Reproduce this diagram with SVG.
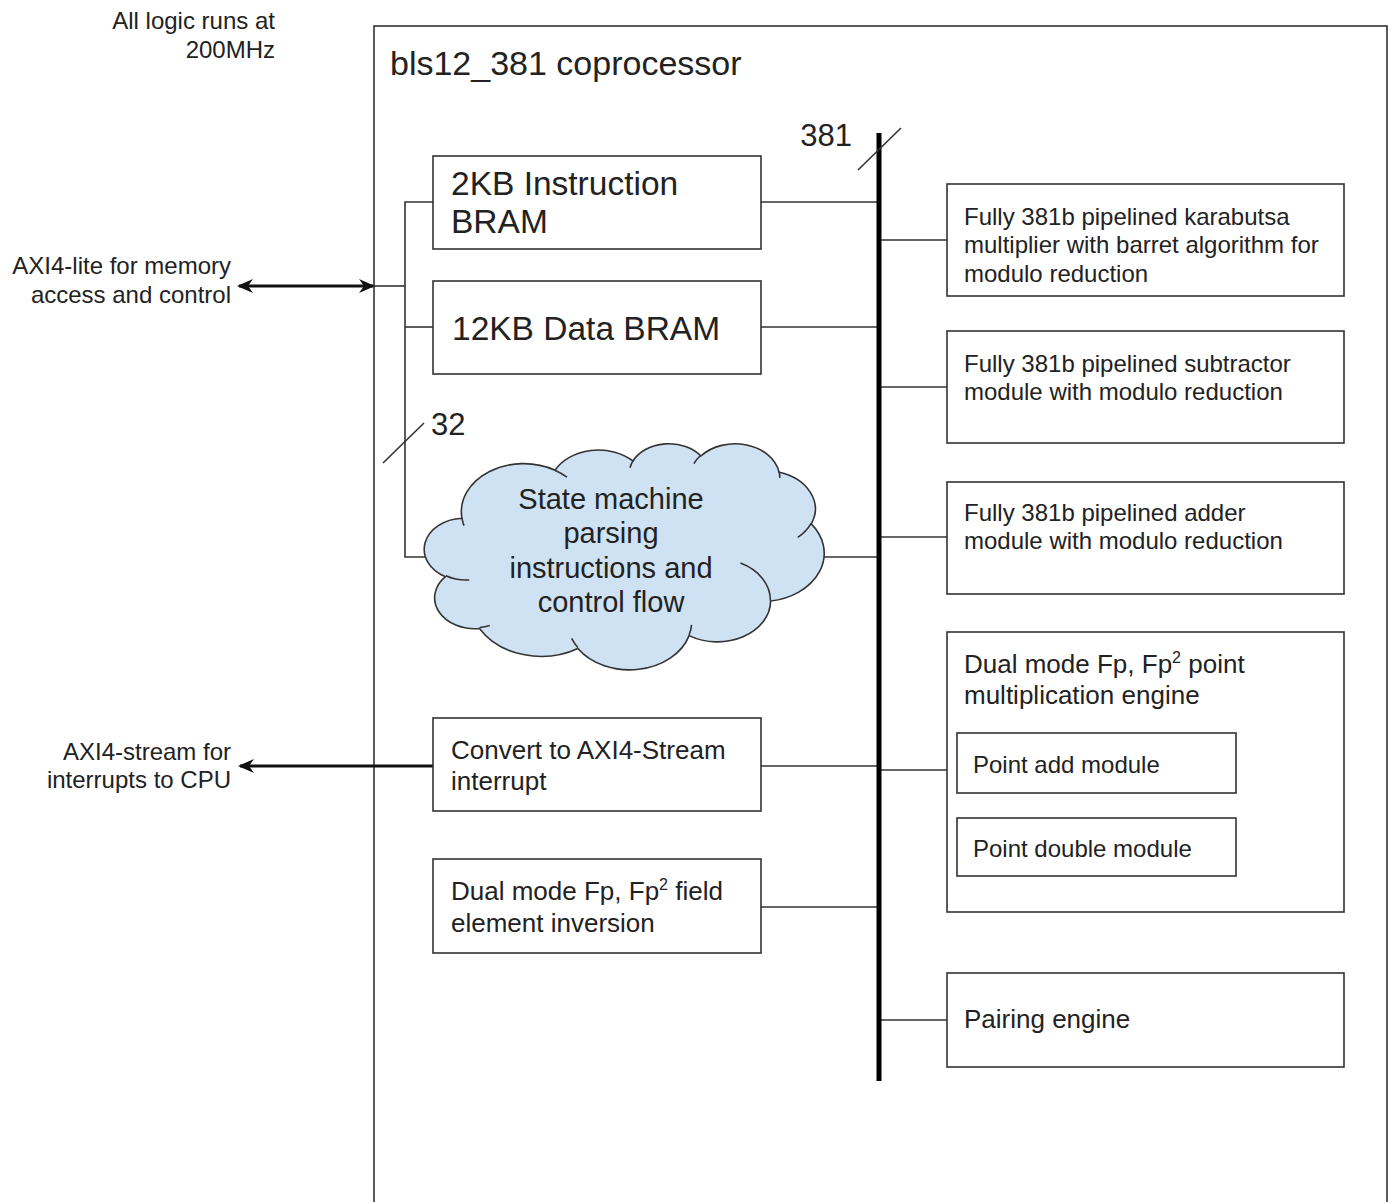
<svg xmlns="http://www.w3.org/2000/svg" width="1392" height="1202" viewBox="0 0 1392 1202">
<defs>
<style>
text{font-family:"Liberation Sans",Arial,sans-serif;fill:#222}
.box{fill:#fff;stroke:#333;stroke-width:1.6}
.ln{stroke:#333;stroke-width:1.6;fill:none}
.io{stroke:#111;stroke-width:2.8;fill:none}
.bus{stroke:#000;stroke-width:5;fill:none}
.big{font-size:33.5px}
.mid{font-size:26px}
.sm{font-size:24px}
.cl{font-size:29px;text-anchor:middle}
.r{text-anchor:end}
</style>
<marker id="arr" viewBox="-1 -8 18 16" refX="14" refY="0" markerWidth="18" markerHeight="16" markerUnits="userSpaceOnUse" orient="auto-start-reverse">
<path d="M16,0 L0,-7 L5,0 L0,7 Z" fill="#111"/>
</marker>
</defs>
<rect width="1392" height="1202" fill="#fff"/>

<g id="notes">
<text class="sm r" x="275" y="29">All logic runs at</text>
<text class="sm r" x="275" y="58">200MHz</text>
<text class="sm r" x="231" y="274">AXI4-lite for memory</text>
<text class="sm r" x="231" y="303">access and control</text>
<text class="sm r" x="231" y="760">AXI4-stream for</text>
<text class="sm r" x="231" y="788">interrupts to CPU</text>
</g>

<g id="coprocessor">
<rect class="box" x="374" y="26" width="1013" height="1200"/>
<text x="390" y="75" style="font-size:34px">bls12_381 coprocessor</text>
</g>

<g id="connectors">
<line class="io" x1="239" y1="286" x2="373" y2="286" marker-start="url(#arr)" marker-end="url(#arr)"/>
<line class="ln" x1="374" y1="286" x2="405" y2="286"/>
<polyline class="ln" points="433,202 405,202 405,557 440,557"/>
<line class="ln" x1="405" y1="327" x2="433" y2="327"/>
<line class="ln" x1="383" y1="463" x2="424" y2="423"/>
<text x="431" y="435" style="font-size:31px">32</text>
<line class="io" x1="433" y1="766" x2="240" y2="766" marker-end="url(#arr)"/>
<line class="ln" x1="761" y1="202" x2="879" y2="202"/>
<line class="ln" x1="761" y1="327" x2="879" y2="327"/>
<line class="ln" x1="800" y1="557" x2="879" y2="557"/>
<line class="ln" x1="761" y1="766" x2="879" y2="766"/>
<line class="ln" x1="761" y1="907" x2="879" y2="907"/>
<line class="ln" x1="879" y1="240" x2="947" y2="240"/>
<line class="ln" x1="879" y1="387" x2="947" y2="387"/>
<line class="ln" x1="879" y1="537" x2="947" y2="537"/>
<line class="ln" x1="879" y1="770" x2="947" y2="770"/>
<line class="ln" x1="879" y1="1020" x2="947" y2="1020"/>
<line class="bus" x1="879" y1="133" x2="879" y2="1081"/>
<line class="ln" x1="858" y1="170" x2="901" y2="128"/>
<text x="852" y="146" class="r" style="font-size:31px">381</text>
</g>

<g id="instr-bram">
<rect class="box" x="433" y="156" width="328" height="93"/>
<text class="big" x="451" y="195">2KB Instruction</text>
<text class="big" x="451" y="233">BRAM</text>
</g>

<g id="data-bram">
<rect class="box" x="433" y="281" width="328" height="93"/>
<text class="big" x="452" y="340">12KB Data BRAM</text>
</g>

<g id="state-machine">
<g transform="translate(426,443) scale(0.009213,0.0052315)">
<path vector-effect="non-scaling-stroke" fill="#cfe2f3" stroke="#333" stroke-width="1.6" d="M3900,14370 A6753,9190 0 0 1 14005.9,5202.6 A5333,7267 0 0 1 22457.9,3432.1 A4365,5945 0 0 1 29835.7,2482.1 A4857,6595 0 0 1 38320.1,5578.5 A5333,7273 0 0 1 41820.5,15462.3 A6775,9220 0 0 1 37406,30204.9 A5785,7867 0 0 1 28558.1,36815.5 A6752,9215 0 0 1 16483.7,39268.8 A7720,10543 0 0 1 5806.2,35473.3 A4360,5918 0 0 1 2113.5,25553.8 A4345,5945 0 0 1 3900,14370 Z"/>
<path vector-effect="non-scaling-stroke" fill="none" stroke="#333" stroke-width="1.6" d="M4693,26177 A4345,5945 0 0 1 2159.1,25379.4 M6928,34899 A4360,5918 0 0 1 5819.5,35280.5 M16478,39090 A6752,9215 0 0 1 15808.6,37346.1 M28827,34751 A6752,9215 0 0 1 28560.4,36660.1 M34129,22954 A5785,7867 0 0 1 37379.6,30089.1 M41798,15354 A5333,7273 0 0 1 40349.1,18031.1 M38324,5426 A4857,6595 0 0 1 38400.4,6689.6 M29078,3952 A4857,6595 0 0 1 29820.4,2339.2 M22141,4720 A4365,5945 0 0 1 22500.2,3329.9 M14000,5192 A6753,9190 0 0 1 15300.6,6541.8 M4127,15789 A6753,9190 0 0 1 3900.4,14371.4"/>
</g>
<text class="cl" x="611" y="509">State machine</text>
<text class="cl" x="611" y="543">parsing</text>
<text class="cl" x="611" y="578">instructions and</text>
<text class="cl" x="611" y="612">control flow</text>
</g>

<g id="axi-stream">
<rect class="box" x="433" y="718" width="328" height="93"/>
<text class="mid" x="451" y="759">Convert to AXI4-Stream</text>
<text class="mid" x="451" y="790">interrupt</text>
</g>

<g id="inversion">
<rect class="box" x="433" y="859" width="328" height="94"/>
<text class="mid" x="451" y="900">Dual mode Fp, Fp<tspan dy="-10" style="font-size:16px">2</tspan><tspan dy="10"> field</tspan></text>
<text class="mid" x="451" y="932">element inversion</text>
</g>

<g id="multiplier">
<rect class="box" x="947" y="184" width="397" height="112"/>
<text class="sm" x="964" y="225">Fully 381b pipelined karabutsa</text>
<text class="sm" x="964" y="253">multiplier with barret algorithm for</text>
<text class="sm" x="964" y="282">modulo reduction</text>
</g>

<g id="subtractor">
<rect class="box" x="947" y="331" width="397" height="112"/>
<text class="sm" x="964" y="372">Fully 381b pipelined subtractor</text>
<text class="sm" x="964" y="400">module with modulo reduction</text>
</g>

<g id="adder">
<rect class="box" x="947" y="482" width="397" height="112"/>
<text class="sm" x="964" y="521">Fully 381b pipelined adder</text>
<text class="sm" x="964" y="549">module with modulo reduction</text>
</g>

<g id="point-mult">
<rect class="box" x="947" y="632" width="397" height="280"/>
<text class="mid" x="964" y="673">Dual mode Fp, Fp<tspan dy="-10" style="font-size:16px">2</tspan><tspan dy="10"> point</tspan></text>
<text class="mid" x="964" y="704">multiplication engine</text>
</g>

<g id="point-add">
<rect class="box" x="957" y="733" width="279" height="60"/>
<text class="sm" x="973" y="773">Point add module</text>
</g>

<g id="point-double">
<rect class="box" x="957" y="818" width="279" height="58"/>
<text class="sm" x="973" y="857">Point double module</text>
</g>

<g id="pairing">
<rect class="box" x="947" y="973" width="397" height="94"/>
<text class="mid" x="964" y="1028">Pairing engine</text>
</g>
</svg>
